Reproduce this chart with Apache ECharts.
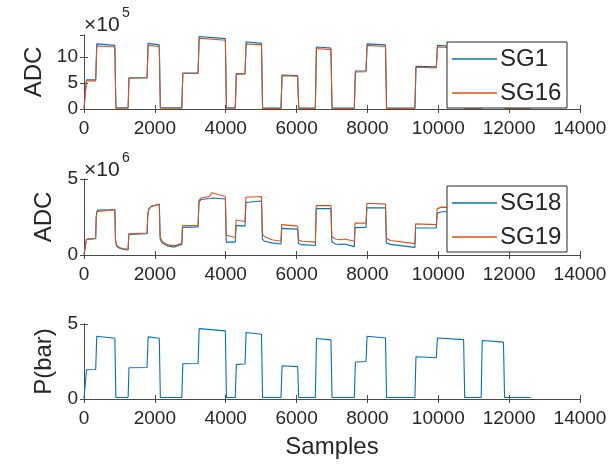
<!DOCTYPE html>
<html><head><meta charset="utf-8">
<script src="https://cdn.jsdelivr.net/npm/echarts@6/dist/echarts.min.js"></script>
<style>html,body{margin:0;padding:0;background:#fff}#c{width:611px;height:464px}</style>
</head><body><div id="c"></div>
<script>
// ---- top panel (ADC x10^5) ----
const T_X = [0, 40, 70, 330, 360, 870, 900, 1245, 1270, 1780, 1810, 2125, 2155, 2760, 2790, 3220, 3250, 3990, 4020, 4270, 4300, 4545, 4575, 5010, 5040, 5560, 5590, 6030, 6060, 6530, 6560, 6970, 7000, 7630, 7660, 7960, 7990, 8510, 8540, 9340, 9370, 9945, 9975, 10715, 10745, 11210, 11240, 11840, 11870, 12610];
const SG1 = [0.2, 0.2, 5.6, 5.6, 12.5, 12.2, 0.25, 0.25, 6.0, 6.05, 12.6, 12.3, 0.25, 0.25, 6.9, 6.95, 13.9, 13.5, 0.25, 0.25, 6.8, 6.85, 12.9, 12.6, 0.2, 0.2, 6.5, 6.4, 0.2, 0.2, 11.9, 11.7, 0.2, 0.2, 7.3, 7.35, 12.5, 12.3, 0.2, 0.2, 8.2, 8.1, 12.2, 11.9, 0.25, 0.25, 11.6, 11.3, 0.25, 0.25];
const SG16 = [0.05, 0.05, 5.4, 5.4, 12.1, 11.9, 0.15, 0.15, 5.9, 5.95, 12.2, 12.0, 0.15, 0.15, 6.8, 6.8, 13.6, 13.2, 0.15, 0.15, 6.7, 6.7, 12.5, 12.3, 0.1, 0.1, 6.4, 6.3, 0.1, 0.1, 11.6, 11.4, 0.1, 0.1, 7.1, 7.15, 12.2, 12.0, 0.1, 0.1, 8.0, 7.9, 11.9, 11.7, 0.15, 0.15, 11.3, 11.0, 0.15, 0.15];
// ---- middle panel (ADC x10^6) ----
const M_X = [0, 40, 70, 330, 345, 360, 380, 870, 890, 920, 1000, 1100, 1245, 1265, 1780, 1800, 1830, 1900, 2125, 2150, 2200, 2350, 2550, 2760, 2780, 3220, 3245, 3300, 3550, 3600, 3650, 3990, 4015, 4270, 4295, 4545, 4570, 5010, 5035, 5100, 5300, 5560, 5580, 6030, 6055, 6150, 6530, 6555, 6970, 6995, 7100, 7250, 7350, 7630, 7650, 7960, 7985, 8510, 8535, 8650, 9340, 9360, 9945, 9970, 10100, 10715, 10740, 10900, 11210, 11235, 11840, 11865, 12000, 12610];
const SG18 = [0.02, 0.02, 1.02, 1.08, 2.45, 2.8, 2.95, 2.98, 0.9, 0.58, 0.45, 0.38, 0.33, 1.35, 1.4, 2.6, 3.0, 3.2, 3.35, 1.05, 0.8, 0.6, 0.52, 0.7, 1.82, 1.85, 3.5, 3.65, 3.72, 3.8, 3.75, 3.68, 0.85, 0.85, 1.95, 1.9, 3.45, 3.55, 1.05, 0.9, 0.8, 0.72, 1.75, 1.7, 0.75, 0.68, 0.62, 3.05, 3.05, 0.85, 0.72, 0.7, 0.72, 0.55, 1.8, 1.82, 3.1, 3.1, 0.8, 0.7, 0.5, 1.78, 1.78, 2.75, 2.85, 2.85, 0.8, 0.6, 0.5, 2.7, 2.65, 0.7, 0.55, 0.4];
const SG19 = [0.02, 0.02, 1.04, 1.1, 2.5, 2.85, 2.95, 3.0, 1.0, 0.65, 0.5, 0.42, 0.38, 1.4, 1.45, 2.7, 3.05, 3.2, 3.32, 1.2, 0.9, 0.68, 0.6, 0.78, 1.93, 1.95, 3.6, 3.75, 3.85, 4.1, 4.0, 3.85, 1.3, 1.15, 2.3, 2.2, 3.8, 3.85, 1.4, 1.2, 1.0, 0.9, 2.0, 1.9, 1.0, 0.9, 0.85, 3.25, 3.25, 1.2, 1.05, 1.0, 1.05, 0.9, 2.1, 2.1, 3.4, 3.35, 1.1, 0.95, 0.75, 2.05, 2.0, 3.05, 3.15, 3.1, 1.0, 0.8, 0.65, 3.0, 2.9, 0.9, 0.7, 0.5];
// ---- bottom panel (pressure, bar) ----
const P_X = T_X;
const P_BAR = [0.05, 0.05, 1.95, 1.97, 4.18, 4.05, 0.1, 0.1, 2.08, 2.1, 4.14, 4.05, 0.1, 0.1, 2.35, 2.37, 4.69, 4.54, 0.1, 0.1, 2.31, 2.33, 4.43, 4.32, 0.1, 0.1, 2.22, 2.16, 0.1, 0.1, 4.03, 3.94, 0.1, 0.1, 2.47, 2.5, 4.18, 4.07, 0.1, 0.1, 2.82, 2.75, 4.07, 3.96, 0.1, 0.1, 3.9, 3.79, 0.1, 0.1];

const pair = (xs, ys) => xs.map((x, i) => [x, ys[i]]);
const BLUE = '#0072BD', ORANGE = '#D95319', AX = '#4a4a4a', TXT = '#262626';
const FONT = 'Liberation Sans, Arial, sans-serif';

const grids = [
  {left: 84, right: 31, top: 35, height: 74},
  {left: 84, right: 31, top: 179, height: 76},
  {left: 84, right: 31, top: 324, height: 75}
];
const yCfg = [
  {max: 14.2, interval: 5, name: 'ADC', gap: 25},
  {max: 5, interval: 5, name: 'ADC', gap: 25},
  {max: 5, interval: 5, name: 'P(bar)', gap: 19}
];
const xAxis = [], yAxis = [];
grids.forEach((g, i) => {
  xAxis.push({type: 'value', gridIndex: i, min: 0, max: 14000, interval: 2000, position: 'bottom',
    axisLine: {show: true, lineStyle: {color: AX, width: 1}},
    axisTick: {show: true, inside: true, length: 4, lineStyle: {color: AX}},
    splitLine: {show: false},
    axisLabel: {show: true, color: TXT, fontSize: 19, fontFamily: FONT, margin: 10, formatter: v => String(v)},
    name: i === 2 ? 'Samples' : '', nameLocation: 'middle', nameGap: 36,
    nameTextStyle: {color: TXT, fontSize: 24, fontFamily: FONT}});
  xAxis.push({type: 'value', gridIndex: i, min: 0, max: 14000, interval: 2000, position: 'top',
    axisLine: {show: true, lineStyle: {color: AX, width: 1}},
    axisTick: {show: true, inside: true, length: 4, lineStyle: {color: AX}},
    splitLine: {show: false}, axisLabel: {show: false}});
  const c = yCfg[i];
  yAxis.push({type: 'value', gridIndex: i, min: 0, max: c.max, interval: c.interval, position: 'left',
    axisLine: {show: true, lineStyle: {color: AX, width: 1}},
    axisTick: {show: true, inside: true, length: 4, lineStyle: {color: AX}},
    splitLine: {show: false},
    axisLabel: {show: true, color: TXT, fontSize: 19, fontFamily: FONT, margin: 6, showMaxLabel: c.max % c.interval === 0, formatter: v => String(v)},
    name: c.name, nameLocation: 'middle', nameGap: c.gap, nameRotate: 90,
    nameTextStyle: {color: TXT, fontSize: 24, fontFamily: FONT}});
  yAxis.push({type: 'value', gridIndex: i, min: 0, max: c.max, interval: c.interval, position: 'right',
    axisLine: {show: true, lineStyle: {color: AX, width: 1}},
    axisTick: {show: true, inside: true, length: 4, lineStyle: {color: AX}},
    splitLine: {show: false}, axisLabel: {show: false}});
});

const line = (name, xi, yi, data, color, z) => ({
  name, type: 'line', xAxisIndex: xi, yAxisIndex: yi, data, symbol: 'none', showSymbol: false,
  lineStyle: {color, width: 1.1}, itemStyle: {color}, z, animation: false
});

const legendCommon = {orient: 'vertical', icon: 'rect', itemWidth: 45, itemHeight: 1.5, itemGap: 10,
  textStyle: {fontSize: 24, color: TXT, fontFamily: FONT, lineHeight: 24, padding: [0, 0, 0, -2]}, z: 20, padding: 0, selectedMode: false};
const chart = echarts.init(document.getElementById('c'), null, {renderer: 'canvas'});
chart.setOption({
  animation: false,
  backgroundColor: '#fff',
  grid: grids,
  xAxis, yAxis,
  series: [
    line('SG1', 0, 0, pair(T_X, SG1), BLUE, 2),
    line('SG16', 0, 0, pair(T_X, SG16), ORANGE, 3),
    line('SG18', 2, 2, pair(M_X, SG18), BLUE, 2),
    line('SG19', 2, 2, pair(M_X, SG19), ORANGE, 3),
    line('P', 4, 4, pair(P_X, P_BAR), BLUE, 2)
  ],
  legend: [
    Object.assign({data: ['SG1', 'SG16'], left: 452, top: 47}, legendCommon),
    Object.assign({data: ['SG18', 'SG19'], left: 452, top: 191}, legendCommon)
  ],
  graphic: [
    {type: 'rect', shape: {x: 447, y: 42, width: 120, height: 66}, style: {fill: '#fff', stroke: '#262626', lineWidth: 1}, z: 10},
    {type: 'rect', shape: {x: 447, y: 186, width: 120, height: 66}, style: {fill: '#fff', stroke: '#262626', lineWidth: 1}, z: 10},
    {type: 'text', x: 84, y: 25, style: {text: '×10', fontSize: 21, fontFamily: FONT, fill: TXT, verticalAlign: 'middle'}, z: 10},
    {type: 'text', x: 122, y: 13, style: {text: '5', fontSize: 14, fontFamily: FONT, fill: TXT, verticalAlign: 'middle'}, z: 10},
    {type: 'text', x: 84, y: 170, style: {text: '×10', fontSize: 21, fontFamily: FONT, fill: TXT, verticalAlign: 'middle'}, z: 10},
    {type: 'text', x: 122, y: 158, style: {text: '6', fontSize: 14, fontFamily: FONT, fill: TXT, verticalAlign: 'middle'}, z: 10}
  ]
});
</script></body></html>
